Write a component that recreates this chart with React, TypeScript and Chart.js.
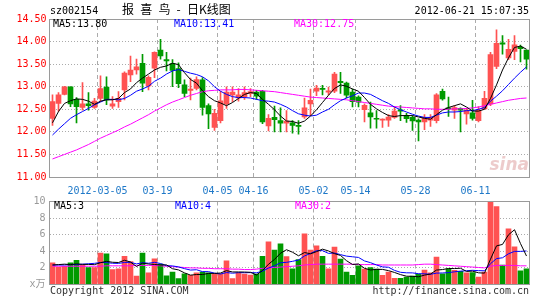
import React, { useEffect, useRef } from 'react';
import { Chart, registerables } from 'chart.js';

Chart.register(...registerables);

// ---------- data ----------
const opens = [12.30, 12.63, 12.83, 13.00, 12.72, 12.54, 12.62, 12.54, 12.74, 12.99, 12.57, 12.67, 12.93, 13.26, 13.37, 13.52, 13.02, 13.41, 13.81, 13.60, 13.51, 13.40, 13.04, 12.92, 12.96, 13.15, 12.58, 12.10, 12.25, 12.62, 12.82, 12.75, 12.78, 12.85, 12.88, 12.90, 12.13, 12.32, 12.25, 12.19, 12.20, 12.13, 12.33, 12.62, 12.90, 12.96, 12.88, 12.90, 13.12, 13.08, 12.88, 12.77, 12.49, 12.42, 12.30, 12.26, 12.26, 12.32, 12.49, 12.36, 12.32, 12.26, 12.22, 12.26, 12.25, 12.90, 12.53, 12.48, 12.52, 12.40, 12.42, 12.25, 12.51, 12.62, 13.45, 13.97, 13.64, 13.78, 13.88, 13.81];
const highs = [12.82, 12.87, 13.01, 13.00, 12.76, 13.09, 12.87, 12.74, 13.24, 13.22, 12.78, 12.89, 13.33, 13.68, 13.61, 13.72, 13.24, 13.77, 14.05, 13.76, 13.60, 13.53, 13.15, 13.19, 13.22, 13.20, 12.62, 12.50, 12.90, 13.00, 13.00, 12.96, 13.00, 12.96, 12.92, 12.92, 12.38, 12.57, 12.53, 12.47, 12.25, 12.25, 12.75, 12.95, 13.03, 13.03, 12.99, 13.32, 13.32, 13.10, 12.95, 12.80, 12.62, 12.66, 12.47, 12.29, 12.38, 12.55, 12.58, 12.41, 12.36, 12.29, 12.38, 12.38, 12.85, 12.95, 12.77, 12.58, 12.53, 12.52, 12.70, 12.56, 12.90, 13.76, 14.26, 14.13, 14.05, 14.13, 13.92, 13.81];
const lows = [12.14, 12.45, 12.82, 12.56, 12.20, 12.48, 12.48, 12.52, 12.67, 12.60, 12.52, 12.54, 12.71, 13.11, 13.28, 12.89, 12.93, 13.20, 13.61, 13.35, 13.00, 12.98, 12.78, 12.71, 12.93, 12.37, 12.07, 12.03, 12.20, 12.52, 12.67, 12.68, 12.72, 12.78, 12.72, 12.18, 12.02, 12.00, 12.00, 12.00, 11.97, 11.95, 12.30, 12.36, 12.80, 12.82, 12.82, 12.87, 12.85, 12.75, 12.55, 12.55, 12.22, 12.08, 12.08, 12.10, 12.12, 12.30, 12.25, 12.21, 12.03, 11.80, 12.05, 12.12, 12.20, 12.70, 12.34, 12.30, 12.00, 12.17, 12.26, 12.22, 12.50, 12.58, 13.40, 13.72, 13.60, 13.60, 13.55, 13.39];
const closes = [12.67, 12.82, 13.00, 12.62, 12.56, 12.62, 12.58, 12.68, 12.96, 12.71, 12.62, 12.74, 13.30, 13.37, 13.44, 13.08, 13.21, 13.76, 13.68, 13.57, 13.36, 13.07, 12.85, 12.95, 13.16, 12.54, 12.40, 12.41, 12.69, 12.88, 12.88, 12.82, 12.87, 12.89, 12.79, 12.22, 12.30, 12.27, 12.19, 12.24, 12.14, 12.12, 12.53, 12.70, 12.97, 12.94, 12.91, 13.28, 13.09, 12.81, 12.67, 12.66, 12.59, 12.33, 12.28, 12.28, 12.33, 12.46, 12.46, 12.29, 12.24, 12.22, 12.31, 12.32, 12.82, 12.73, 12.51, 12.54, 12.48, 12.48, 12.30, 12.48, 12.74, 13.71, 13.96, 13.94, 13.83, 13.93, 13.84, 13.61];

const ma5 = [12.20, 12.45, 12.63, 12.69, 12.73, 12.72, 12.68, 12.61, 12.68, 12.71, 12.71, 12.74, 12.87, 12.95, 13.09, 13.19, 13.28, 13.37, 13.43, 13.46, 13.52, 13.49, 13.31, 13.16, 13.08, 12.91, 12.78, 12.69, 12.64, 12.58, 12.65, 12.74, 12.83, 12.87, 12.85, 12.72, 12.61, 12.49, 12.35, 12.24, 12.23, 12.19, 12.24, 12.35, 12.49, 12.65, 12.81, 12.96, 13.04, 13.01, 12.95, 12.90, 12.76, 12.61, 12.51, 12.43, 12.36, 12.34, 12.36, 12.36, 12.36, 12.33, 12.30, 12.28, 12.38, 12.48, 12.54, 12.58, 12.62, 12.55, 12.46, 12.46, 12.50, 12.74, 13.04, 13.37, 13.64, 13.87, 13.90, 13.83];
const ma10 = [11.93, 12.06, 12.18, 12.30, 12.38, 12.45, 12.52, 12.60, 12.66, 12.72, 12.72, 12.71, 12.74, 12.81, 12.90, 12.95, 13.01, 13.12, 13.19, 13.28, 13.35, 13.38, 13.34, 13.30, 13.27, 13.22, 13.13, 13.00, 12.90, 12.83, 12.78, 12.76, 12.76, 12.75, 12.72, 12.69, 12.68, 12.66, 12.61, 12.55, 12.47, 12.40, 12.37, 12.35, 12.37, 12.44, 12.50, 12.60, 12.69, 12.75, 12.80, 12.86, 12.86, 12.83, 12.76, 12.69, 12.63, 12.55, 12.49, 12.44, 12.39, 12.35, 12.32, 12.32, 12.37, 12.42, 12.44, 12.44, 12.45, 12.47, 12.47, 12.50, 12.54, 12.68, 12.79, 12.91, 13.05, 13.19, 13.32, 13.44];
const ma30 = [11.40, 11.45, 11.50, 11.55, 11.60, 11.66, 11.72, 11.79, 11.86, 11.92, 11.98, 12.04, 12.11, 12.17, 12.24, 12.31, 12.38, 12.46, 12.53, 12.60, 12.66, 12.71, 12.76, 12.81, 12.85, 12.89, 12.91, 12.92, 12.93, 12.93, 12.93, 12.94, 12.94, 12.93, 12.92, 12.91, 12.90, 12.89, 12.87, 12.85, 12.83, 12.81, 12.79, 12.77, 12.76, 12.75, 12.74, 12.73, 12.72, 12.71, 12.69, 12.67, 12.65, 12.63, 12.61, 12.59, 12.57, 12.56, 12.55, 12.54, 12.53, 12.52, 12.51, 12.51, 12.50, 12.50, 12.50, 12.51, 12.51, 12.52, 12.53, 12.55, 12.58, 12.61, 12.64, 12.67, 12.70, 12.72, 12.74, 12.75];

const volumes = [2.6, 2.1, 2.2, 2.6, 2.9, 2.35, 2.05, 2.05, 3.8, 3.7, 1.8, 1.9, 3.4, 2.75, 1.0, 3.8, 1.4, 3.1, 2.45, 1.05, 1.5, 0.7, 1.3, 1.1, 1.4, 1.5, 1.4, 1.3, 1.3, 2.85, 0.7, 1.4, 1.25, 1.15, 1.25, 3.4, 5.15, 4.15, 4.9, 3.35, 1.9, 3.0, 6.1, 4.15, 4.65, 3.4, 1.9, 4.5, 3.05, 1.5, 1.1, 2.25, 1.85, 2.05, 1.85, 1.1, 1.5, 0.75, 0.75, 0.9, 1.0, 1.25, 1.75, 1.4, 3.3, 1.3, 1.9, 1.7, 1.6, 1.4, 1.45, 0.9, 1.5, 10, 9.4, 2.35, 6.7, 4.55, 1.65, 1.9];
const volMa5 = [2.35, 2.40, 2.45, 2.40, 2.48, 2.43, 2.42, 2.39, 2.63, 2.79, 2.68, 2.65, 2.92, 2.71, 2.17, 2.57, 2.47, 2.41, 2.35, 2.36, 1.90, 1.76, 1.40, 1.13, 1.20, 1.20, 1.34, 1.34, 1.38, 1.67, 1.51, 1.51, 1.50, 1.47, 1.15, 1.69, 2.44, 3.02, 3.77, 4.19, 3.89, 3.46, 3.85, 3.70, 3.96, 4.26, 4.04, 3.72, 3.50, 2.87, 2.41, 2.48, 1.95, 1.75, 1.82, 1.82, 1.67, 1.45, 1.19, 1.00, 0.98, 0.93, 1.13, 1.26, 1.74, 1.80, 1.93, 1.92, 1.96, 1.58, 1.61, 1.41, 1.37, 3.05, 4.65, 4.83, 5.99, 6.60, 4.93, 3.43];
const volMa10 = [2.35, 2.35, 2.35, 2.40, 2.40, 2.45, 2.50, 2.55, 2.65, 2.64, 2.56, 2.54, 2.66, 2.67, 2.48, 2.63, 2.56, 2.67, 2.53, 2.27, 2.24, 2.12, 1.91, 1.74, 1.78, 1.55, 1.55, 1.37, 1.26, 1.44, 1.36, 1.43, 1.42, 1.43, 1.41, 1.60, 1.98, 2.26, 2.62, 2.67, 2.79, 2.95, 3.44, 3.74, 4.08, 4.08, 3.75, 3.79, 3.60, 3.42, 3.34, 3.26, 2.84, 2.63, 2.35, 2.12, 2.08, 1.70, 1.47, 1.41, 1.40, 1.30, 1.29, 1.23, 1.37, 1.39, 1.43, 1.53, 1.61, 1.66, 1.71, 1.67, 1.65, 2.51, 3.12, 3.22, 3.70, 3.99, 3.99, 4.04];
const volMa30 = [2.2, 2.2, 2.2, 2.2, 2.2, 2.2, 2.2, 2.2, 2.2, 2.25, 2.25, 2.25, 2.25, 2.25, 2.3, 2.3, 2.3, 2.3, 2.25, 2.2, 2.15, 2.1, 2.05, 2.0, 2.0, 1.95, 1.95, 1.9, 1.9, 1.9, 1.85, 1.85, 1.8, 1.8, 1.85, 1.95, 2.0, 2.05, 2.1, 2.15, 2.2, 2.25, 2.35, 2.4, 2.45, 2.45, 2.45, 2.45, 2.45, 2.45, 2.45, 2.4, 2.4, 2.4, 2.4, 2.35, 2.35, 2.35, 2.35, 2.35, 2.35, 2.4, 2.45, 2.45, 2.4, 2.35, 2.3, 2.25, 2.2, 2.15, 2.1, 2.05, 2.0, 2.2, 2.3, 2.3, 2.3, 2.3, 2.25, 2.25];

const dateTickIndex = [8, 18, 28, 34, 44, 51, 61, 71];
const dateTickLabels = ['2012-03-05', '03-19', '04-05', '04-16', '05-02', '05-14', '05-28', '06-11'];

const priceLegend = ['MA5:13.80', 'MA10:13.41', 'MA30:12.75'];
const volLegend = ['MA5:3', 'MA10:4', 'MA30:2'];
const stockCode = 'sz002154';
const titleText = '报 喜 鸟 - 日K线图';
const timeText = '2012-06-21 15:07:35';
const copyrightText = 'Copyright 2012 SINA.COM';
const urlText = 'http://finance.sina.com.cn';

// ---------- styles ----------
const MONO = "'DejaVu Sans Mono', 'Noto Sans CJK SC', monospace";
const UP = '#ff5252';
const DOWN = '#009a00';
const GRID = '#ababab';
const FRAME = '#9a9a9a';
const LINE_COLORS = ['#000000', '#0000ff', '#ff00ff'];

function text(ctx: any, s: string, x: number, y: number, color: string, align: CanvasTextAlign = 'left', font = `10px ${MONO}`, wordSpacing = '0px') {
  ctx.save();
  ctx.font = font;
  ctx.fillStyle = color;
  ctx.textAlign = align;
  ctx.textBaseline = 'middle';
  if ('wordSpacing' in ctx) ctx.wordSpacing = wordSpacing;
  ctx.fillText(s, x, y);
  ctx.restore();
}

function frame(chart: any) {
  const { ctx, chartArea: ca } = chart;
  ctx.save();
  ctx.strokeStyle = FRAME;
  ctx.lineWidth = 1;
  const x0 = Math.floor(ca.left) + 0.5;
  const x1 = Math.floor(ca.right) + 0.5;
  const y0 = Math.floor(ca.top) + 0.5;
  const y1 = Math.floor(ca.bottom) + 0.5;
  ctx.strokeRect(x0, y0, x1 - x0, y1 - y0);
  ctx.restore();
}

function xScale(showLabels: boolean, height: number) {
  return {
    type: 'linear',
    min: -0.5,
    max: 79.5,
    offset: false,
    grid: { display: true, color: GRID, lineWidth: 1, drawTicks: false, offset: false },
    border: { display: false, dash: [4, 3] },
    afterBuildTicks: (scale: any) => {
      scale.ticks = dateTickIndex.map((i) => ({ value: i - 0.5 }));
    },
    afterFit: (scale: any) => {
      scale.height = height;
      scale.paddingLeft = 0;
      scale.paddingRight = 0;
    },
    ticks: {
      display: showLabels,
      autoSkip: false,
      maxRotation: 0,
      padding: 8,
      color: '#1e78c8',
      font: { family: MONO, size: 10 },
      callback: (v: number) => {
        const k = dateTickIndex.indexOf(Math.round(v + 0.5));
        return k >= 0 ? dateTickLabels[k] : '';
      },
    },
  };
}

function lineSet(values: number[], color: string, order: number) {
  return {
    type: 'line',
    data: values.map((v, i) => ({ x: i, y: v })),
    borderColor: color,
    borderWidth: 1,
    pointRadius: 0,
    tension: 0,
    fill: false,
    order,
  };
}

export default function App() {
  const priceRef = useRef<HTMLCanvasElement>(null);
  const volRef = useRef<HTMLCanvasElement>(null);

  useEffect(() => {
    const colors = closes.map((c, i) => (c >= opens[i] ? UP : DOWN));

    const pricePlugin = {
      id: 'priceDecor',
      beforeDatasetsDraw(chart: any) {
        const ctx = chart.ctx;
        ctx.save();
        ctx.font = "italic bold 17px 'DejaVu Sans'";
        ctx.fillStyle = 'rgba(215,140,140,0.45)';
        ctx.textAlign = 'right';
        ctx.textBaseline = 'alphabetic';
        ctx.fillText('sina', 529, 170);
        ctx.restore();
      },
      afterDatasetsDraw(chart: any) {
        const ctx = chart.ctx;
        frame(chart);
        text(ctx, priceLegend[0], 53, 24, LINE_COLORS[0]);
        text(ctx, priceLegend[1], 174, 24, LINE_COLORS[1]);
        text(ctx, priceLegend[2], 294, 24, LINE_COLORS[2]);
        text(ctx, stockCode, 50, 11, '#000');
        text(ctx, titleText, 122, 9.5, '#000', 'left', "12px 'Noto Sans CJK SC'", '3.5px');
        text(ctx, timeText, 529, 11, '#000', 'right');
      },
    };

    const volPlugin = {
      id: 'volDecor',
      afterDatasetsDraw(chart: any) {
        const ctx = chart.ctx;
        frame(chart);
        text(ctx, volLegend[0], 54, 10, LINE_COLORS[0]);
        text(ctx, volLegend[1], 175, 10, LINE_COLORS[1]);
        text(ctx, volLegend[2], 295, 10, LINE_COLORS[2]);
        text(ctx, copyrightText, 50, 95.5, '#333');
        text(ctx, urlText, 529, 95.5, '#333', 'right');
      },
    };

    const priceChart = new Chart(priceRef.current as HTMLCanvasElement, {
      type: 'bar',
      data: {
        datasets: [
          lineSet(ma5, LINE_COLORS[0], 0),
          lineSet(ma10, LINE_COLORS[1], 1),
          lineSet(ma30, LINE_COLORS[2], 2),
          {
            type: 'bar',
            data: opens.map((o, i) => ({ x: i, y: [o, closes[i]] })),
            backgroundColor: colors,
            borderWidth: 0,
            barThickness: 5,
            minBarLength: 1,
            grouped: false,
            order: 3,
          },
          {
            type: 'bar',
            data: lows.map((l, i) => ({ x: i, y: [l, highs[i]] })),
            backgroundColor: colors,
            borderWidth: 0,
            barThickness: 1,
            minBarLength: 1,
            grouped: false,
            order: 4,
          },
        ] as any,
      },
      options: {
        animation: false,
        responsive: false,
        devicePixelRatio: 1,
        events: [],
        layout: { padding: { left: 0, right: 15.5, top: 19, bottom: 0 } },
        plugins: { legend: { display: false }, tooltip: { enabled: false }, title: { display: false } },
        scales: {
          x: xScale(true, 19),
          y: {
            type: 'linear',
            position: 'left',
            min: 11,
            max: 14.5,
            grid: {
              drawTicks: false,
              color: (c: any) => (c.tick && (Math.abs(c.tick.value - 11) < 1e-6 || Math.abs(c.tick.value - 14.5) < 1e-6) ? 'rgba(0,0,0,0)' : GRID),
            },
            border: { display: false, dash: [1, 2] },
            afterFit: (s: any) => {
              s.width = 49.5;
              s.paddingTop = 0;
              s.paddingBottom = 0;
            },
            ticks: {
              stepSize: 0.5,
              autoSkip: false,
              padding: 3,
              color: '#ff0000',
              font: { family: MONO, size: 10 },
              callback: (v: any) => Number(v).toFixed(2),
            },
          },
        } as any,
      },
      plugins: [pricePlugin],
    } as any);

    const volChart = new Chart(volRef.current as HTMLCanvasElement, {
      type: 'bar',
      data: {
        datasets: [
          lineSet(volMa5, LINE_COLORS[0], 0),
          lineSet(volMa10, LINE_COLORS[1], 1),
          lineSet(volMa30, LINE_COLORS[2], 2),
          {
            type: 'bar',
            data: volumes.map((v, i) => ({ x: i, y: v })),
            backgroundColor: colors,
            borderWidth: 0,
            barThickness: 5,
            grouped: false,
            order: 3,
          },
        ] as any,
      },
      options: {
        animation: false,
        responsive: false,
        devicePixelRatio: 1,
        events: [],
        layout: { padding: { left: 0, right: 15.5, top: 5.5, bottom: 0 } },
        plugins: { legend: { display: false }, tooltip: { enabled: false }, title: { display: false } },
        scales: {
          x: xScale(false, 15.5),
          y: {
            type: 'linear',
            position: 'left',
            min: 0,
            max: 10,
            grid: {
              drawTicks: false,
              color: (c: any) => (c.tick && (c.tick.value === 0 || c.tick.value === 10) ? 'rgba(0,0,0,0)' : GRID),
            },
            border: { display: false, dash: [1, 2] },
            afterFit: (s: any) => {
              s.width = 49.5;
              s.paddingTop = 0;
              s.paddingBottom = 0;
            },
            ticks: {
              stepSize: 2,
              autoSkip: false,
              padding: 4,
              color: '#999999',
              font: { family: MONO, size: 10 },
              callback: (v: any) => (Number(v) === 0 ? 'x万' : String(v)),
            },
          },
        } as any,
      },
      plugins: [volPlugin],
    } as any);

    return () => {
      priceChart.destroy();
      volChart.destroy();
    };
  }, []);

  return (
    <div style={{ position: 'absolute', left: 0, top: 0, width: 545, height: 300, background: '#ffffff' }}>
      <canvas ref={priceRef} width={545} height={196} style={{ position: 'absolute', left: 0, top: 0, width: 545, height: 196 }} />
      <canvas ref={volRef} width={545} height={104} style={{ position: 'absolute', left: 0, top: 196, width: 545, height: 104 }} />
    </div>
  );
}
